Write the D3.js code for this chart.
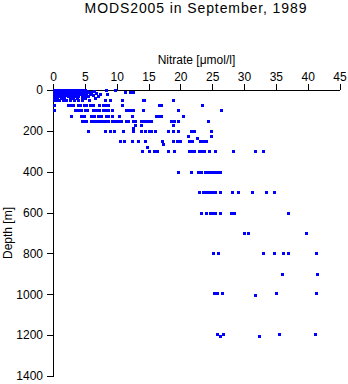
<!DOCTYPE html>
<html><head><meta charset="utf-8">
<script src="https://cdn.jsdelivr.net/npm/d3@7"></script>
<style>
body{margin:0;background:#fff;}
svg{display:block;font-family:"Liberation Sans",Arial,Helvetica,sans-serif;}
</style></head>
<body><svg id="c" width="348" height="384"></svg>
<script>
const titleText = "MODS2005 in September, 1989";
const xLabel = "Nitrate [\u03bcmol/l]";
const yLabel = "Depth [m]";
const xTicks = [0,5,10,15,20,25,30,35,40,45];
const yTicks = [0,200,400,600,800,1000,1200,1400];

// depth levels (m) and the nitrate values (umol/l) observed at each
const levelDepths = [0,5,10,15,20,25,30,40,50,75,100,125,150,170,185,200,225,233,250,263,280,300,400,500,600,700,800,900,995,1003,1195,1205];
const levelNitrate = [
  [0.1,0.3,0.5,0.8,1.0,1.3,1.6,2.0,2.3,2.7,3.0,3.4,3.8,4.2,4.6,5.0,8.3,9.7],
  [0.2,0.6,1.1,1.5,2.1,2.6,3.2,3.6,4.4,5.3,6.5],
  [0.1,0.4,0.9,1.2,1.8,2.2,2.9,3.3,4.0,4.8,5.5,6.0,11.3,12.1,12.5],
  [0.3,0.7,1.4,1.9,2.5,3.1,3.7,4.3,5.1,6.8],
  [0.1,0.5,1.0,1.6,2.1,2.8,3.5,4.1,4.7,5.8,7.4,8.5],
  [0.2,0.8,1.3,2.0,2.4,3.0,3.9,4.5,5.2,6.3],
  [0.1,0.6,1.1,1.7,2.3,2.9,3.4,4.0,4.9,5.5,7.0],
  [0.2,0.7,1.2,1.8,2.6,3.2,3.8,4.5,5.0,6.6],
  [0.1,0.5,1.0,1.5,2.1,2.7,3.3,4.0,4.6,5.6,8.2,9.0,10.8,14.1,14.3,18.9],
  [0.1,2.4,2.8,3.1,3.9,4.3,4.8,5.2,5.8,6.3,7.2,7.8,8.3,8.6,10.9,16.6,17.0,23.4],
  [0.1,3.5,3.9,4.4,5.1,5.4,6.3,6.8,7.3,7.9,8.2,8.7,9.3,11.4,11.6,12.1,12.6,14.1,19.6,26.4],
  [2.9,4.4,4.9,6.0,6.5,7.0,7.5,8.3,8.7,9.2,10.3,12.4,16.1,16.5,16.9,20.4],
  [4.5,4.9,5.2,6.0,6.3,6.8,7.2,7.6,7.9,8.3,8.7,9.2,9.7,10.2,10.7,11.4,11.8,12.5,12.9,13.8,14.2,14.6,15.0,15.4,18.5,19.0,19.6,24.4],
  [12.9,13.9,18.8],
  [12.6],
  [5.5,8.2,8.9,9.6,11.0,12.6,13.8,14.4,15.0,15.4,16.0,18.1,18.9,19.7,21.6,22.2,24.8],
  [21.2,24.8],
  [22.6],
  [10.5,11.2,12.4,13.3,14.4,17.1,18.9,19.4,20.0,21.3,21.8,23.1,23.6,24.0],
  [17.2],
  [14.7],
  [14.0,15.0,15.8,16.3,18.1,19.0,21.3,21.7,22.1,22.9,23.3,23.7,24.5,25.4,28.3,31.7,33.0],
  [19.7,21.7,22.8,23.3,23.8,24.3,24.8,25.3,25.8,26.2],
  [23.0,23.5,24.0,24.5,25.0,25.5,26.2,28.1,29.0,31.2,33.4,34.7],
  [23.2,24.1,24.6,25.0,25.5,26.2,28.0,28.5,36.9],
  [30.0,30.6,39.8],
  [25.2,25.9,33.0,34.7,36.2,36.9,41.3],
  [36.0,41.4],
  [25.3,25.8,26.6,35.0,41.3],
  [31.7],
  [25.8,26.7,35.5,41.2],
  [26.2,32.3]
];

const points = [];
levelDepths.forEach((d,i)=>levelNitrate[i].forEach(v=>points.push({d,v})));

const svg = d3.select("#c");
const x = d3.scaleLinear().domain([0,45]).range([53,339.5]);
const y = d3.scaleLinear().domain([0,1400]).range([90,376]);

svg.append("text").attr("x",196).attr("y",13).attr("text-anchor","middle")
  .attr("font-size",14).attr("letter-spacing","0.9px").attr("fill","#000").text(titleText);

svg.append("text").attr("x",196.5).attr("y",64).attr("text-anchor","middle")
  .attr("font-size",12).attr("fill","#000").text(xLabel);

svg.append("text").attr("transform","translate(12,233) rotate(-90)").attr("text-anchor","middle")
  .attr("font-size",12).attr("fill","#000").text(yLabel);

const gx = svg.append("g").attr("transform","translate(0,90)")
  .call(d3.axisTop(x).tickValues(xTicks).tickFormat(d3.format("d")).tickSize(6).tickSizeOuter(0).tickPadding(3));
const gy = svg.append("g").attr("transform","translate(53,0)")
  .call(d3.axisLeft(y).tickValues(yTicks).tickFormat(d3.format("d")).tickSize(6).tickSizeOuter(0).tickPadding(4));
[gx,gy].forEach(g=>{
  g.selectAll("text").attr("font-size",12).attr("font-family","Liberation Sans, Arial, sans-serif").attr("fill","#000");
  g.selectAll("path,line").attr("stroke","#000").attr("shape-rendering","crispEdges");
});

svg.append("g").selectAll("rect").data(points).join("rect")
  .attr("x",p=>Math.round(x(p.v))-1).attr("y",p=>Math.round(y(p.d))-1)
  .attr("width",3).attr("height",3).attr("fill","#0000ff").attr("shape-rendering","crispEdges");
</script></body></html>
